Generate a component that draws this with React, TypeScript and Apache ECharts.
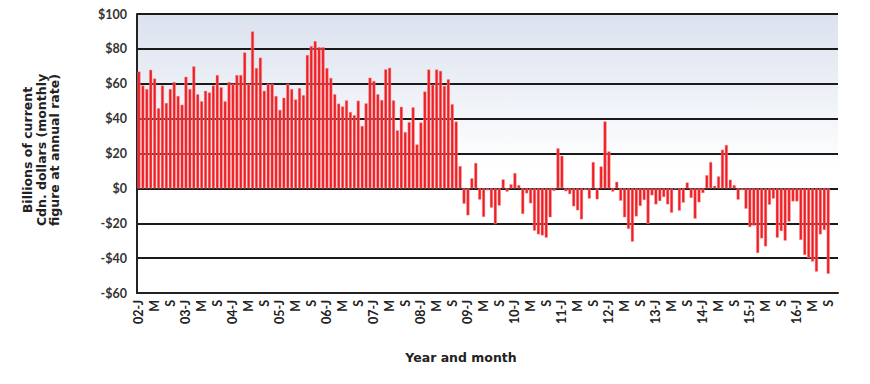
import React, { useEffect, useRef } from "react";
import * as echarts from "echarts";

const startYear = 2002;
const monthCount = 179; // Jan 2002 – Nov 2016 axis span
const monthLetters = ["J", "F", "M", "A", "M", "J", "J", "A", "S", "O", "N", "D"];

// Monthly values, billions of current Cdn. dollars (annual rate), Jan 2002 – Sep 2016
const values: number[] = [
  67, 59, 57, 68, 63, 46, 59, 49, 57, 61, 53, 48,
  64, 57, 70, 54, 50, 56, 55, 59, 65, 58, 50, 61,
  60, 65, 65, 78, 60, 90, 69, 75, 56, 60, 60, 53,
  45, 52, 60, 57, 51, 57.5, 53.5, 76.5, 81.6, 84.5, 81, 81,
  69, 63.3, 54, 48.6, 47, 50.5, 43.8, 42, 50.3, 35.8, 48.8, 63.5,
  61.6, 54, 50.7, 68.3, 69.2, 50.5, 33.3, 46.8, 32.3, 38, 46.5, 25.2,
  37.8, 55.6, 68.2, 59.5, 68.2, 67.4, 58.8, 62.6, 48.3, 38.3, 12.8, -8.8,
  -15.5, 5.8, 14.6, -6.5, -16.4, -1.1, -11.1, -20.5, -9.9, 5.2, -1.9, 2.3,
  8.8, 1.9, -14.7, -2.9, -8.6, -24.3, -26.4, -27, -28.3, -16.6, -1.5, 23,
  18.7, -1.7, -3.3, -10.3, -12.6, -17.8, -0.8, -5.9, 15.1, -6.3, 12.6, 38.4,
  21.2, -1.9, 3.8, -7.1, -16.6, -23.3, -30.6, -16.1, -10.1, -6.7, -20.3, -4,
  -9.2, -7.3, -5, -9.2, -14, -0.5, -12.8, -8.2, 3.4, -5.5, -17.4, -8,
  -2.7, 7.6, 15.1, 1.5, 6.9, 22.2, 24.9, 5, 1.9, -6.5, -1, -11.7,
  -22.2, -21.4, -37.1, -28.7, -33.3, -9.4, -5.9, -28.3, -24.5, -30, -19.1, -7.5,
  -7.5, -29.6, -38.2, -40, -42, -47.8, -26.4, -23.9, -49,
];

const categories: string[] = Array.from({ length: monthCount }, (_, i) => {
  const y = startYear + Math.floor(i / 12);
  const m = i % 12;
  return m === 0 ? `${String(y).slice(2)}-${monthLetters[m]}` : monthLetters[m];
});

const yMin = -60;
const yMax = 100;
const yStep = 20;

const yAxisTitle = "Billions of current\nCdn. dollars (monthly\nfigure at annual rate)";
const xAxisTitle = "Year and month";

const FONT = "Lato, 'DejaVu Sans', sans-serif";
const TITLE_FONT = "'DejaVu Sans', sans-serif";

export default function App() {
  const ref = useRef<HTMLDivElement>(null);

  useEffect(() => {
    if (!ref.current) return;
    const chart = echarts.init(ref.current, undefined, { renderer: "svg" });
    chart.setOption({
      animation: false,
      textStyle: { fontFamily: FONT },
      grid: {
        left: 137,
        right: 32,
        top: 14,
        bottom: 91,
        show: true,
        borderWidth: 0,
        backgroundColor: new echarts.graphic.LinearGradient(0, 0, 0, 1, [
          { offset: 0, color: "#dbe2ee" },
          { offset: 0.55, color: "#ffffff" },
          { offset: 1, color: "#ffffff" },
        ]),
      },
      xAxis: {
        type: "category",
        data: categories,
        boundaryGap: true,
        axisLine: { show: true, onZero: false, lineStyle: { color: "#222", width: 2 } },
        axisTick: { show: false },
        splitLine: { show: false },
        axisLabel: {
          interval: 3,
          rotate: 90,
          margin: 7,
          color: "#222",
          fontSize: 12.5,
          fontWeight: "bold",
          fontFamily: FONT,
        },
      },
      yAxis: {
        type: "value",
        min: yMin,
        max: yMax,
        interval: yStep,
        axisLine: { show: true, lineStyle: { color: "#222", width: 2 } },
        axisTick: { show: false },
        splitLine: { show: true, lineStyle: { color: "#1a1a1a", width: 2 } },
        axisLabel: {
          margin: 10,
          color: "#333",
          fontSize: 12.5,
          fontWeight: "bold",
          fontFamily: FONT,
          formatter: (v: number) => (v < 0 ? `-$${Math.abs(v)}` : `$${v}`),
        },
      },
      series: [
        {
          type: "bar",
          data: values,
          barCategoryGap: "20%",
          itemStyle: {
            color: "#ec1f25",
            borderColor: "rgba(255,150,150,0.9)",
            borderWidth: 0.5,
          },
        },
      ],
      graphic: [
        {
          type: "text",
          x: 41,
          y: 150,
          rotation: Math.PI / 2,
          style: {
            text: yAxisTitle,
            fill: "#222",
            fontSize: 12.5,
            fontWeight: "bold",
            fontFamily: TITLE_FONT,
            textAlign: "center",
            textVerticalAlign: "middle",
            lineHeight: 13.5,
          },
        },
        {
          type: "text",
          x: 461,
          y: 357,
          style: {
            text: xAxisTitle,
            fill: "#222",
            fontSize: 12.5,
            fontWeight: "bold",
            fontFamily: TITLE_FONT,
            textAlign: "center",
            textVerticalAlign: "middle",
          },
        },
      ],
    });
    return () => chart.dispose();
  }, []);

  return (
    <div
      ref={ref}
      style={{ position: "fixed", left: 0, top: 0, width: 870, height: 384, background: "#fff" }}
    />
  );
}
